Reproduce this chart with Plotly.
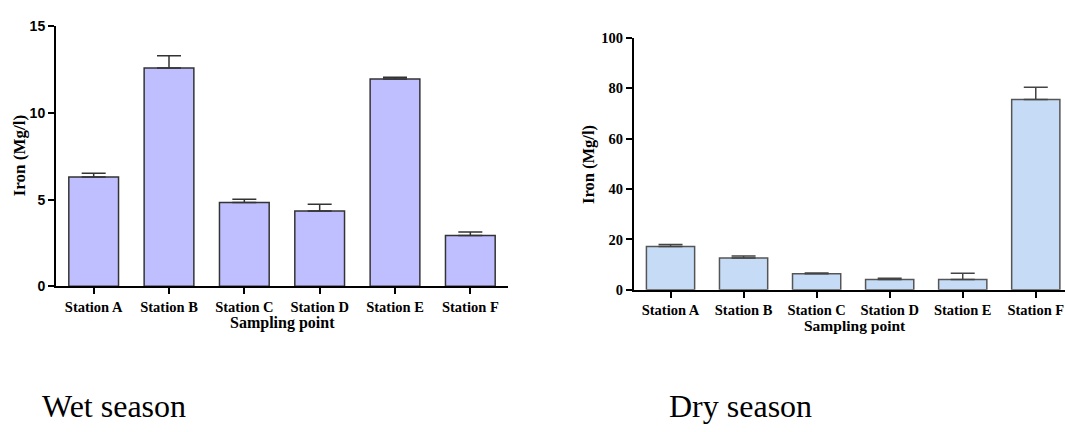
import plotly.graph_objects as go

stations = ["Station A", "Station B", "Station C", "Station D", "Station E", "Station F"]
wet_values = [6.3, 12.6, 4.83, 4.35, 11.96, 2.93]
wet_errors = [0.22, 0.7, 0.19, 0.39, 0.1, 0.2]
dry_values = [17.2, 12.6, 6.4, 4.1, 4.1, 75.5]
dry_errors = [0.8, 0.8, 0.25, 0.5, 2.5, 4.9]
wet_ticks = [0, 5, 10, 15]
dry_ticks = [0, 20, 40, 60, 80, 100]

W, H = 1065, 432
serif = "Liberation Serif"

fig = go.Figure()
fig.add_trace(go.Bar(
    x=stations, y=wet_values, xaxis="x", yaxis="y",
    marker=dict(color="#BFBFFF", line=dict(color="#333333", width=1.5)),
    error_y=dict(type="data", array=wet_errors, arrayminus=[0]*6, symmetric=False,
                 color="#333333", thickness=1.5, width=12),
    width=0.66, showlegend=False))
fig.add_trace(go.Bar(
    x=stations, y=dry_values, xaxis="x2", yaxis="y2",
    marker=dict(color="#C6DCF6", line=dict(color="#555555", width=1.5)),
    error_y=dict(type="data", array=dry_errors, arrayminus=[0]*6, symmetric=False,
                 color="#444444", thickness=1.5, width=12),
    width=0.66, showlegend=False))

axis_common = dict(showline=True, linecolor="black", linewidth=2, showgrid=False,
                   zeroline=False, ticks="outside", ticklen=6, tickwidth=2, tickcolor="black")

fig.update_layout(
    width=W, height=H, margin=dict(l=0, r=0, t=0, b=0),
    paper_bgcolor="white", plot_bgcolor="white",
    xaxis=dict(domain=[56/W, 508/W], range=[-0.5, 5.5], anchor="y",
               tickfont=dict(family=serif, size=14.5, color="black", weight="bold"),
               **axis_common),
    yaxis=dict(domain=[(H-289)/H, (H-19)/H], range=[0, 15], anchor="x",
               tickvals=wet_ticks,
               tickfont=dict(family="Liberation Sans", size=14, color="black", weight="bold"),
               **axis_common),
    xaxis2=dict(domain=[634/W, 1.0], range=[-0.5, 5.4], anchor="y2",
                tickfont=dict(family=serif, size=14.5, color="black", weight="bold"),
                **axis_common),
    yaxis2=dict(domain=[(H-292.7)/H, (H-31)/H], range=[0, 100], anchor="x2",
                tickvals=dry_ticks,
                tickfont=dict(family=serif, size=14.5, color="black", weight="bold"),
                **axis_common),
)

ann = []
ann.append(dict(text="<b>Sampling point</b>", x=282.5/W, y=(H-327)/H, xref="paper", yref="paper",
                showarrow=False, font=dict(family=serif, size=16, color="black"),
                xanchor="center", yanchor="middle"))
ann.append(dict(text="<b>Sampling point</b>", x=854.5/W, y=(H-330)/H, xref="paper", yref="paper",
                showarrow=False, font=dict(family=serif, size=15.5, color="black"),
                xanchor="center", yanchor="middle"))
ann.append(dict(text="<b>Iron (Mg/l)</b>", x=19/W, y=(H-154)/H, xref="paper", yref="paper",
                showarrow=False, textangle=-90, font=dict(family=serif, size=17, color="black"),
                xanchor="center", yanchor="middle"))
ann.append(dict(text="<b>Iron (Mg/l)</b>", x=589/W, y=(H-163)/H, xref="paper", yref="paper",
                showarrow=False, textangle=-90, font=dict(family=serif, size=16.5, color="black"),
                xanchor="center", yanchor="middle"))
ann.append(dict(text="Wet season", x=40/W, y=(H-413)/H, xref="paper", yref="paper",
                showarrow=False, font=dict(family=serif, size=32, color="black"),
                xanchor="left", yanchor="middle"))
ann.append(dict(text="Dry season", x=667/W, y=(H-413)/H, xref="paper", yref="paper",
                showarrow=False, font=dict(family=serif, size=32, color="black"),
                xanchor="left", yanchor="middle"))
fig.update_layout(annotations=ann)

fig.write_html("out.html")
